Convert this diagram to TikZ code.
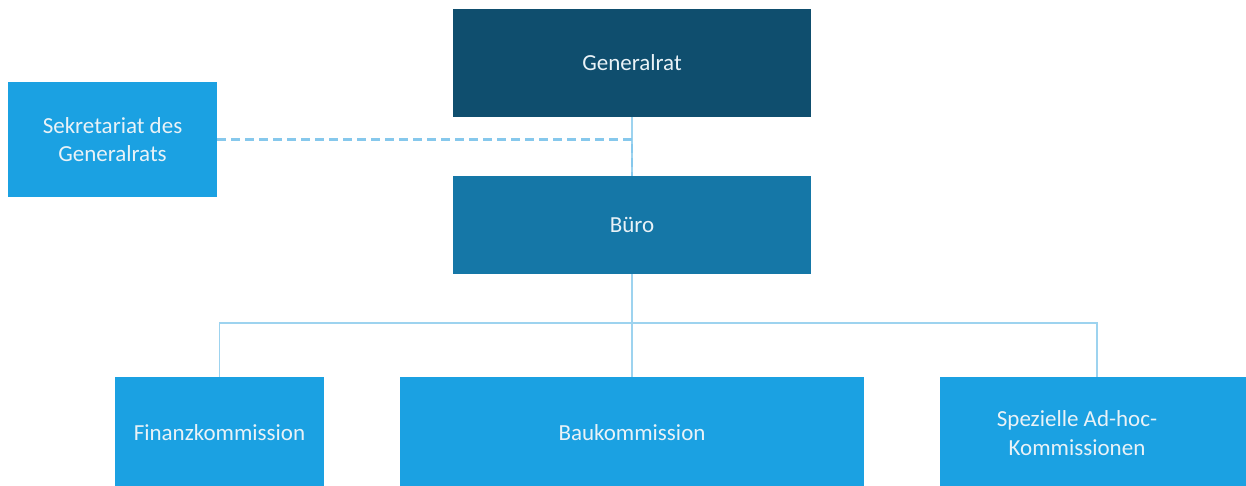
\documentclass[tikz,border=0pt]{standalone}
\usepackage{fontspec}
\setmainfont{Carlito}
\definecolor{cdark}{HTML}{0F4E6E}
\definecolor{cmid}{HTML}{1577A7}
\definecolor{clight}{HTML}{1BA1E2}
\definecolor{cline}{HTML}{9DD3EF}
\definecolor{cdash}{HTML}{86C8EC}
\definecolor{ctext}{HTML}{E9F2F7}
\begin{document}
\begin{tikzpicture}[x=1pt,y=-1pt,
  box/.style={draw=none,inner sep=0pt,outer sep=0pt,align=center,text=ctext,
    font=\fontsize{23}{28.5}\selectfont},
  txt/.style={inner sep=0pt,align=center,text=ctext,font=\fontsize{23}{28.5}\selectfont},
  conn/.style={draw=cline,line width=1.8pt},
  dconn/.style={draw=cdash,line width=2.2pt,dash pattern=on 9pt off 5pt}]
\useasboundingbox (0,0) rectangle (1246,486);
\clip (0,0) rectangle (1246,486);
\fill[white] (0,0) rectangle (1246,486);
\coordinate (busL) at (219.5,323);
\coordinate (busR) at (1097,323);
\node[box,fill=cdark,minimum width=358pt,minimum height=108pt] (gen) at (632,63) {Generalrat};
\node[box,fill=cmid,minimum width=358pt,minimum height=98pt] (buero) at (632,225) {Büro};
\node[box,fill=clight,minimum width=209pt,minimum height=115pt] (sek) at (112.5,139.5) {Sekretariat des\\Generalrats};
\node[box,fill=clight,minimum width=209pt,minimum height=112pt] (fin) at (219.5,433) {Finanzkommission};
\node[box,fill=clight,minimum width=464pt,minimum height=112pt] (bau) at (632,433) {Baukommission};
\node[box,fill=clight,minimum width=306pt,minimum height=112pt] (spez) at (1093,433) {};
\node[txt] (spezt) at (1077,433) {Spezielle Ad-hoc-\\Kommissionen};
\draw[conn] (gen.south) -- (buero.north);
\draw[dconn] (sek.east) -- (sek.east -| buero.north) -- (buero.north);
\draw[conn] (buero.south) -- (bau.north);
\draw[conn] (fin.north) -- (busL) -- (busR) -- (busR |- spez.north);
\end{tikzpicture}
\end{document}
